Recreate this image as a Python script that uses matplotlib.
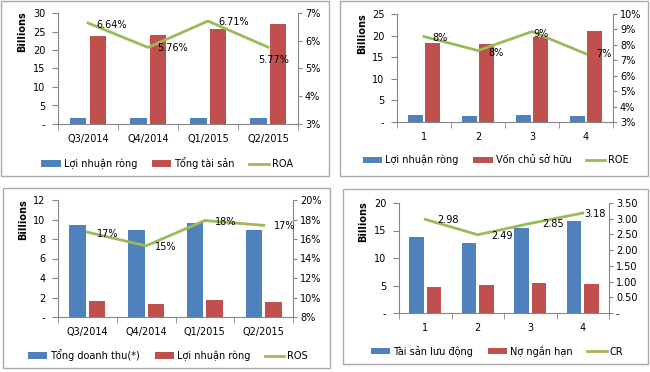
import matplotlib
matplotlib.use("Agg")
import matplotlib.pyplot as plt
from matplotlib.patches import Rectangle
from matplotlib.ticker import FixedLocator, FuncFormatter

W, H = 650, 372
BLUE, RED, GREEN = "#4F81BD", "#C0504D", "#9BBB59"
AXIS_GRAY = "#868686"

plt.rcParams["font.family"] = ["DejaVu Sans"]
plt.rcParams["font.size"] = 7

# ---- data -------------------------------------------------------------
quarters = ["Q3/2014", "Q4/2014", "Q1/2015", "Q2/2015"]
periods = ["1", "2", "3", "4"]

# panel 1: ROA
loi_nhuan_rong_1 = [1.5, 1.5, 1.7, 1.5]
tong_tai_san = [23.8, 24.0, 25.8, 26.9]
roa = [6.64, 5.76, 6.71, 5.77]
roa_labels = ["6.64%", "5.76%", "6.71%", "5.77%"]

# panel 2: ROE
loi_nhuan_rong_2 = [1.6, 1.4, 1.6, 1.4]
von_chu_so_huu = [18.4, 18.0, 19.6, 21.0]
roe = [8.54, 7.63, 8.86, 7.42]
roe_labels = ["8%", "8%", "9%", "7%"]

# panel 3: ROS
tong_doanh_thu = [9.42, 8.9, 9.59, 8.9]
loi_nhuan_rong_3 = [1.61, 1.37, 1.71, 1.51]
ros = [16.7, 15.3, 17.9, 17.4]
ros_labels = ["17%", "15%", "18%", "17%"]

# panel 4: CR
tai_san_luu_dong = [13.86, 12.77, 15.48, 16.69]
no_ngan_han = [4.76, 5.12, 5.48, 5.3]
cr = [2.98, 2.49, 2.85, 3.18]
cr_labels = ["2.98", "2.49", "2.85", "3.18"]


def fx(px):
    return px / W


def fy(py):
    return 1 - py / H


def panel(fig, box, cats, blue, red, line, line_labels, names,
          left_ticks, right_ticks, right_fmt, label_offsets,
          billions_xy, legend_xy):
    l, t, r, b = box
    ax = fig.add_axes([fx(l), fy(b), fx(r - l), (b - t) / H])
    x = list(range(len(cats)))
    off, w = 0.165, 0.28
    hb = ax.bar([i - off for i in x], blue, w, color=BLUE, label=names[0], zorder=2)
    hr = ax.bar([i + off for i in x], red, w, color=RED, label=names[1], zorder=2)
    ax.set_xlim(-0.5, len(cats) - 0.5)
    ax.set_ylim(left_ticks[0], left_ticks[-1])
    ax.yaxis.set_major_locator(FixedLocator(left_ticks))
    ax.yaxis.set_major_formatter(FuncFormatter(lambda v, p: "-" if v == 0 else f"{v:g}"))
    ax.set_xticks(x)
    ax.set_xticklabels(cats)
    ax.set_xticks([i - 0.5 for i in range(len(cats) + 1)], minor=True)
    ax.tick_params(axis="x", which="major", length=0, pad=7)
    ax.tick_params(axis="x", which="minor", length=4, color=AXIS_GRAY, direction="out")
    ax.tick_params(axis="y", length=4, color=AXIS_GRAY, direction="out", pad=5)
    for s in ("top", "right"):
        ax.spines[s].set_visible(False)
    for s in ("left", "bottom"):
        ax.spines[s].set_color(AXIS_GRAY)

    ax2 = ax.twinx()
    hl, = ax2.plot(x, line, color=GREEN, lw=2.0, label=names[2], zorder=3,
                   solid_joinstyle="miter")
    ax2.set_ylim(right_ticks[0], right_ticks[-1])
    ax2.yaxis.set_major_locator(FixedLocator(right_ticks))
    ax2.yaxis.set_major_formatter(FuncFormatter(right_fmt))
    ax2.tick_params(axis="y", length=3, color=AXIS_GRAY, direction="out", pad=2)
    for s in ("top", "left", "bottom"):
        ax2.spines[s].set_visible(False)
    ax2.spines["right"].set_color(AXIS_GRAY)
    for xi, yi, txt, (dx, dy) in zip(x, line, line_labels, label_offsets):
        ax2.annotate(txt, (xi, yi), xytext=(dx, -dy), textcoords="offset pixels",
                     ha="left", va="center", fontsize=7, zorder=4)

    fig.text(fx(billions_xy[0]), fy(billions_xy[1]), "Billions", rotation=90,
             fontweight="bold", ha="center", va="center", fontsize=7)
    fig.legend(handles=[hb, hr, hl], loc="center", ncol=3, frameon=False,
               bbox_to_anchor=(fx(legend_xy[0]), fy(legend_xy[1])),
               handlelength=2.0, handleheight=0.6, handletextpad=0.3,
               columnspacing=1.5, fontsize=7)


def pct(v, p):
    return f"{v:g}%"


def cr_fmt(v, p):
    return "-" if v == 0 else f"{v:.2f}"


fig = plt.figure(figsize=(W / 100, H / 100), dpi=100)

for (x0, y0, x1, y1) in [(1, 1, 329, 176), (340, 1, 648, 176),
                         (3, 188, 330, 368), (343, 189, 648, 364)]:
    fig.patches.append(Rectangle((fx(x0), fy(y1)), fx(x1 - x0), (y1 - y0) / H,
                                 transform=fig.transFigure, fill=False,
                                 edgecolor="#AAAAAA", lw=1.0))

panel(fig, (58, 13, 298, 124), quarters, loi_nhuan_rong_1, tong_tai_san, roa,
      roa_labels, ["Lợi nhuận ròng", "Tổng tài sản", "ROA"],
      [0, 5, 10, 15, 20, 25, 30], [3, 4, 5, 6, 7], pct,
      [(8, 2), (9, 1), (10, 1), (-10, 13)], (22, 32), (167, 163))

panel(fig, (397, 14, 613, 122), periods, loi_nhuan_rong_2, von_chu_so_huu, roe,
      roe_labels, ["Lợi nhuận ròng", "Vốn chủ sở hữu", "ROE"],
      [0, 5, 10, 15, 20, 25], [3, 4, 5, 6, 7, 8, 9, 10], pct,
      [(8, 1), (10, 2), (1, 2), (10, 0)], (362, 34), (496, 160))

panel(fig, (58, 200, 293, 317), quarters, tong_doanh_thu, loi_nhuan_rong_3, ros,
      ros_labels, ["Tổng doanh thu(*)", "Lợi nhuận ròng", "ROS"],
      [0, 2, 4, 6, 8, 10, 12], [8, 10, 12, 14, 16, 18, 20], pct,
      [(10, 2), (9, 1), (10, 2), (10, 1)], (23, 220), (168, 355))

panel(fig, (399, 203, 609, 313), periods, tai_san_luu_dong, no_ngan_han, cr,
      cr_labels, ["Tài sản lưu động", "Nợ ngắn hạn", "CR"],
      [0, 5, 10, 15, 20], [0, 0.5, 1.0, 1.5, 2.0, 2.5, 3.0, 3.5], cr_fmt,
      [(12, 1), (13, 1), (12, 1), (2, 1)], (363, 222), (497, 351))

fig.savefig("out.png", dpi=100)
